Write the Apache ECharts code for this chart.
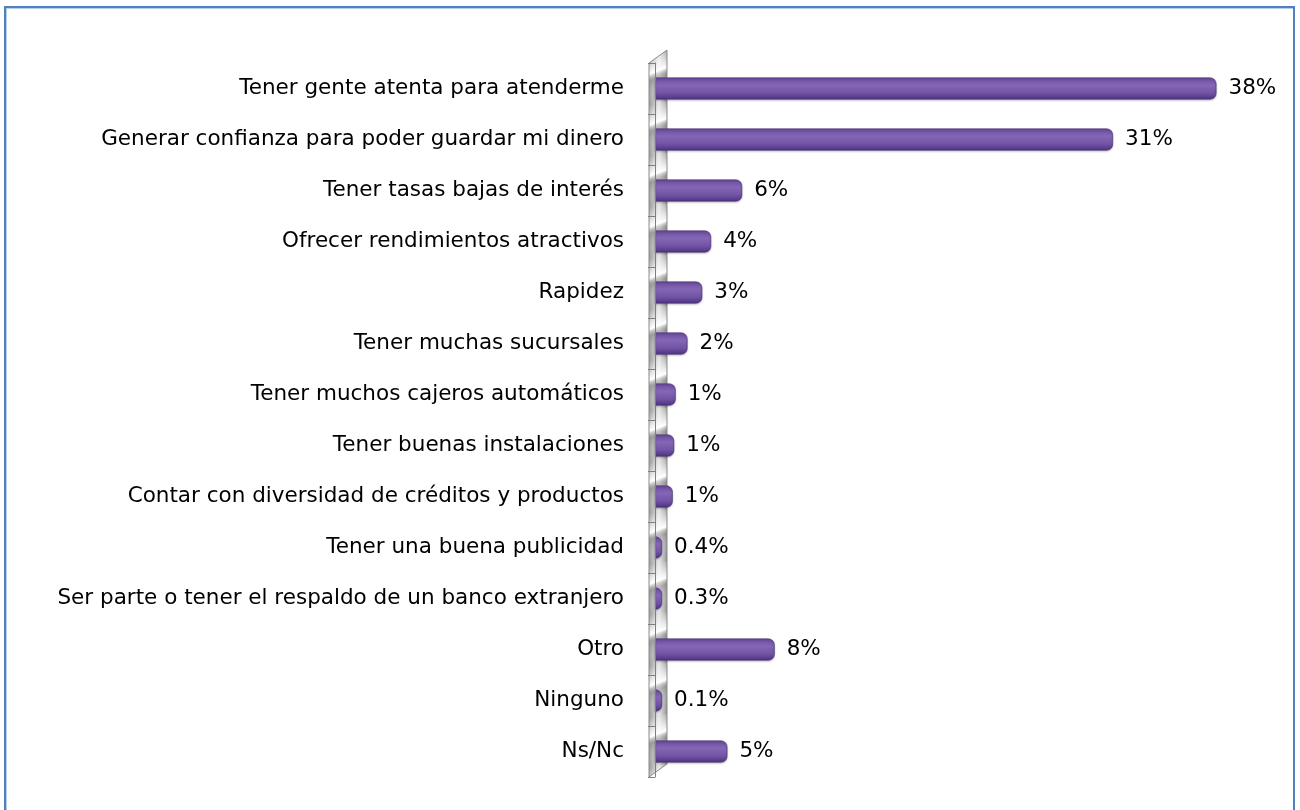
<!DOCTYPE html>
<html>
<head>
<meta charset="utf-8">
<script src="https://cdn.jsdelivr.net/npm/echarts@6/dist/echarts.min.js"></script>
<style>
  html, body { margin: 0; padding: 0; background: #fff; overflow: hidden; }
  #main { position: absolute; left: 0; top: 0; width: 1300px; height: 810px; }
  #frame { position: absolute; left: 4px; top: 6px; width: 1287px; height: 830px;
           border: 2px solid #4f81bd; box-shadow: inset 1px 1px 0 #b9cde5; pointer-events: none; }
</style>
</head>
<body>
<div id="main"></div>
<div id="frame"></div>
<script>
// categorias (de arriba hacia abajo)
var categories = [
    'Tener gente atenta para atenderme',
    'Generar confianza para poder guardar mi dinero',
    'Tener tasas bajas de interés',
    'Ofrecer rendimientos atractivos',
    'Rapidez',
    'Tener muchas sucursales',
    'Tener muchos cajeros automáticos',
    'Tener buenas instalaciones',
    'Contar con diversidad de créditos y productos',
    'Tener una buena publicidad',
    'Ser parte o tener el respaldo de un banco extranjero',
    'Otro',
    'Ninguno',
    'Ns/Nc'
];
// porcentajes
var values = [38, 31, 5.9, 3.8, 3.2, 2.2, 1.4, 1.3, 1.2, 0.4, 0.3, 8.1, 0.1, 4.9];
// etiquetas mostradas al final de cada barra
var valueLabels = ['38%', '31%', '6%', '4%', '3%', '2%', '1%', '1%', '1%', '0.4%', '0.3%', '8%', '0.1%', '5%'];

var chart = echarts.init(document.getElementById('main'));
var font = '"DejaVu Sans", "Liberation Sans", Arial, sans-serif';

// relleno de la pared: franjas diagonales claras/oscuras
function wallPattern() {
    var c = document.createElement('canvas');
    c.width = 18; c.height = 51;
    var ctx = c.getContext('2d');
    var g = ctx.createLinearGradient(0, 0, 18, 0);
    g.addColorStop(0, '#9c9c9c');
    g.addColorStop(0.3, '#c4c4c4');
    g.addColorStop(0.55, '#e6e6e6');
    g.addColorStop(0.85, '#b4b4b4');
    g.addColorStop(1, '#8f8f8f');
    ctx.fillStyle = g;
    ctx.fillRect(0, 0, 18, 51);
    var s = ctx.createLinearGradient(0, 4, 16, 44);
    s.addColorStop(0, 'rgba(255,255,255,0)');
    s.addColorStop(0.42, 'rgba(255,255,255,1)');
    s.addColorStop(0.58, 'rgba(120,120,120,0.35)');
    s.addColorStop(1, 'rgba(255,255,255,0)');
    ctx.fillStyle = s;
    ctx.fillRect(0, 0, 18, 51);
    return c;
}

var option = {
    animation: false,
    textStyle: { fontFamily: font },
    grid: { left: 655, right: 54, top: 63, bottom: 33 },
    xAxis: {
        type: 'value',
        min: 0,
        max: 40,
        show: false
    },
    yAxis: {
        type: 'category',
        data: categories,
        inverse: true,
        offset: 6,
        z: 4,
        axisLine: { show: true, lineStyle: { color: '#7f7f7f', width: 1 } },
        axisTick: { show: true, length: 7, lineStyle: { color: '#7f7f7f' } },
        axisLabel: { margin: 25, color: '#000', fontSize: 21.5, fontFamily: font }
    },
    graphic: [{
        // pared 3D a la izquierda
        type: 'polygon',
        z: 0,
        x: 649,
        y: 0,
        shape: { points: [[0, 63], [18, 50], [18, 764], [0, 777]] },
        style: {
            fill: { image: wallPattern(), repeat: 'repeat' },
            stroke: '#8c8c8c',
            lineWidth: 1
        }
    }],
    series: [{
        type: 'bar',
        data: values,
        barWidth: 22,
        barMinHeight: 7,
        z: 3,
        itemStyle: {
            color: new echarts.graphic.LinearGradient(0, 0, 0, 1, [
                { offset: 0, color: '#6a4a9c' },
                { offset: 0.35, color: '#8466b6' },
                { offset: 0.7, color: '#7253a5' },
                { offset: 1, color: '#4d3380' }
            ]),
            borderColor: '#4a3276',
            borderWidth: 0.6,
            borderRadius: [0, 6, 6, 0],
            shadowColor: 'rgba(0,0,0,0.25)',
            shadowBlur: 2,
            shadowOffsetY: 1
        },
        label: {
            show: true,
            position: 'right',
            distance: 12,
            color: '#000',
            fontSize: 21.5,
            fontFamily: font,
            formatter: function (p) { return valueLabels[p.dataIndex]; }
        }
    }]
};
chart.setOption(option);
</script>
</body>
</html>
